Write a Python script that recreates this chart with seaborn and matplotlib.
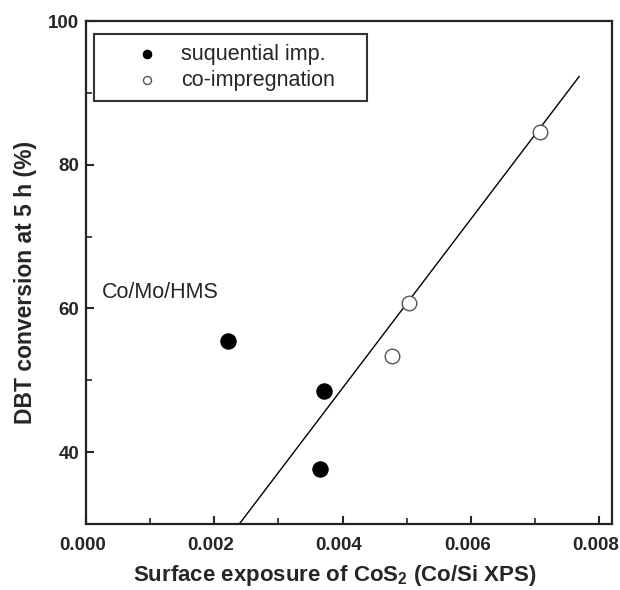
import pandas as pd
import seaborn as sns
import matplotlib.pyplot as plt
import matplotlib.transforms as mtransforms

# data
seq_x = [0.00222, 0.00371, 0.00365]
seq_y = [55.4, 48.5, 37.7]
co_x = [0.00477, 0.00504, 0.00708]
co_y = [53.4, 60.8, 84.6]
fit_x = [0.00239, 0.00769]
fit_y = [30.0, 92.3]

sns.set_theme(style="ticks")
plt.rcParams['font.family'] = ['Liberation Sans', 'DejaVu Sans']
plt.rcParams['mathtext.fontset'] = 'custom'
plt.rcParams['mathtext.rm'] = 'Liberation Sans'
plt.rcParams['mathtext.bf'] = 'Liberation Sans:bold'

fig = plt.figure(figsize=(6.2, 5.9), dpi=100)
ax = fig.add_axes([86 / 620, 1 - 524 / 590, 526 / 620, 503 / 590])

df_seq = pd.DataFrame({"x": seq_x, "y": seq_y})
df_co = pd.DataFrame({"x": co_x, "y": co_y})
df_fit = pd.DataFrame({"x": fit_x, "y": fit_y})

sns.lineplot(data=df_fit, x="x", y="y", ax=ax, color="black", linewidth=1.0, legend=False)
sns.scatterplot(data=df_seq, x="x", y="y", ax=ax, s=120, color="black",
                edgecolor="black", label="suquential imp.", zorder=3)
sns.scatterplot(data=df_co, x="x", y="y", ax=ax, s=110, facecolor="white",
                edgecolor="#555555", linewidth=1.0, label="co-impregnation", zorder=3)

ax.set_xlim(0, 0.0082)
ax.set_ylim(30, 100)
ax.set_xticks([0.000, 0.002, 0.004, 0.006, 0.008])
ax.set_xticklabels(["0.000", "0.002", "0.004", "0.006", "0.008"])
ax.set_xticks([0.001, 0.003, 0.005, 0.007], minor=True)
ax.set_yticks([40, 60, 80, 100])
ax.set_yticks([50, 70, 90], minor=True)
ax.tick_params(which="major", direction="in", length=6, width=1.5, labelsize=13.5)
ax.tick_params(which="minor", direction="in", length=4, width=1.2)
ax.tick_params(axis="x", pad=9)
ax.tick_params(axis="y", pad=5)
shift = mtransforms.ScaledTranslation(-3.5 / 100, 0, fig.dpi_scale_trans)
for lab in ax.get_xticklabels():
    lab.set_fontweight("bold")
    lab.set_transform(lab.get_transform() + shift)
for lab in ax.get_yticklabels():
    lab.set_fontweight("bold")
for sp in ax.spines.values():
    sp.set_linewidth(1.6)
    sp.set_color("#222222")

ax.set_xlabel(r"Surface exposure of CoS$_\mathbf{2}$ (Co/Si XPS)", fontsize=16,
              fontweight="bold", labelpad=7, x=0.473)
ax.set_ylabel("DBT conversion at 5 h (%)", fontsize=16.5, fontweight="bold",
              labelpad=8, y=0.481)

ax.text(0.00025, 62.2, "Co/Mo/HMS", fontsize=15.5, va="center", ha="left")

# legend box stretched to the reference width
leg = ax.legend(loc="upper left", bbox_to_anchor=(8 / 526, 1 - 13 / 503, 273 / 526, 0),
                mode="expand", fontsize=15.5, frameon=True, fancybox=False,
                markerscale=0.55, handlelength=4.03, handletextpad=-0.42,
                borderpad=0.45, labelspacing=0.25, borderaxespad=0)
leg.get_frame().set_edgecolor("black")
leg.get_frame().set_linewidth(1.5)

fig.savefig("out.png", dpi=100)
